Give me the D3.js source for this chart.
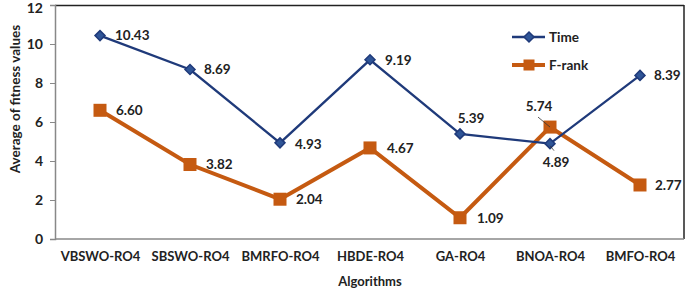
<!DOCTYPE html>
<html><head><meta charset="utf-8">
<script src="https://cdn.jsdelivr.net/npm/d3@7"></script>
<style>body{margin:0;background:#fff}svg{display:block}text{font-family:Lato,"Open Sans",sans-serif;font-weight:bold;fill:#222}</style>
</head><body><svg id="c" width="685" height="289"></svg>
<script>
const categories = ["VBSWO-RO4","SBSWO-RO4","BMRFO-RO4","HBDE-RO4","GA-RO4","BNOA-RO4","BMFO-RO4"];
const timeValues = [10.43, 8.69, 4.93, 9.19, 5.39, 4.89, 8.39];
const frankValues = [6.60, 3.82, 2.04, 4.67, 1.09, 5.74, 2.77];
const yTicks = [0,2,4,6,8,10,12];
const seriesNames = ["Time","F-rank"];

const svg = d3.select("#c");
const L=55, R=684, T=5, B=239;
const x = d3.scalePoint().domain(categories).range([L,685]).padding(0.5);
const y = d3.scaleLinear().domain([0,12]).range([B,T]);
const navy="#1F3A7A", orange="#C55A11";

svg.append("line").attr("x1",L).attr("x2",R).attr("y1",T+0.5).attr("y2",T+0.5).attr("stroke","#222").attr("stroke-width",1.5);
svg.append("line").attr("x1",R).attr("x2",R).attr("y1",T).attr("y2",B).attr("stroke","#222").attr("stroke-width",1.5);

const yAxis = svg.append("g").attr("transform",`translate(${L},0)`)
  .call(d3.axisLeft(y).tickValues(yTicks).tickFormat(d3.format("d")).tickSize(5).tickPadding(7));
yAxis.select(".domain").attr("stroke","#888").attr("stroke-width",1.5);
yAxis.selectAll(".tick line").attr("stroke","#888");
yAxis.selectAll("text").style("font-size","14px").attr("fill","#222");
yAxis.selectAll(".tick").filter(d=>d===12).select("text").attr("dy","0.5em");

const xAxis = svg.append("g").attr("transform",`translate(0,${B})`)
  .call(d3.axisBottom(x).tickSize(0).tickPadding(13));
xAxis.select(".domain").attr("stroke","#888").attr("stroke-width",1.5).attr("d",`M${L},0H${R}`);
xAxis.selectAll("text").style("font-size","13px").attr("fill","#222");

svg.append("text").attr("x",370).attr("y",286).attr("text-anchor","middle").style("font-size","13px").text("Algorithms");
svg.append("text").attr("transform","translate(15,99) rotate(-90)").attr("text-anchor","middle").attr("dy","0.35em").style("font-size","13.5px").text("Average of fitness values");

const line = d3.line().x((d,i)=>x(categories[i])).y(d=>y(d));
svg.append("path").datum(frankValues).attr("d",line).attr("fill","none").attr("stroke",orange).attr("stroke-width",4).attr("stroke-linejoin","miter");
svg.append("path").datum(timeValues).attr("d",line).attr("fill","none").attr("stroke",navy).attr("stroke-width",2.3);

const diamond = (cx,cy,s)=>`M${cx},${cy-s}L${cx+s},${cy}L${cx},${cy+s}L${cx-s},${cy}Z`;
svg.selectAll(".sq").data(frankValues).join("rect").attr("x",(d,i)=>x(categories[i])-6.5).attr("y",d=>y(d)-6.5).attr("width",13).attr("height",13).attr("fill",orange);
svg.selectAll(".dm").data(timeValues).join("path").attr("d",(d,i)=>diamond(x(categories[i]),y(d),5)).attr("fill","#2F5597").attr("stroke",navy).attr("stroke-width",1.5);

const timeOff = [[15,0,"start"],[14,0,"start"],[15,1,"start"],[15,0,"start"],[11,-16,"middle"],[6,19,"middle"],[14,0,"start"]];
const frankOff = [[16,0,"start"],[16,0,"start"],[16,0,"start"],[17,0,"start"],[17,1,"start"],[-11,-21,"middle"],[15,0,"start"]];
function labels(vals,offs){
  vals.forEach((v,i)=>{
    svg.append("text").attr("x",x(categories[i])+offs[i][0]).attr("y",y(v)+offs[i][1]).attr("dy","0.35em")
      .attr("text-anchor",offs[i][2]).style("font-size","13.5px").text(v.toFixed(2));
  });
}
labels(timeValues,timeOff); labels(frankValues,frankOff);
svg.append("line").attr("x1",x(categories[5])-12).attr("y1",y(frankValues[5])-10).attr("x2",x(categories[5])).attr("y2",y(frankValues[5])).attr("stroke","#333").attr("stroke-width",0.8);
svg.append("line").attr("x1",x(categories[5])+4).attr("y1",y(timeValues[5])+7).attr("x2",x(categories[5])).attr("y2",y(timeValues[5])+2).attr("stroke","#333").attr("stroke-width",0.8);

const lg = svg.append("g");
[[navy,2.3,seriesNames[0],37],[orange,4,seriesNames[1],65]].forEach(([c,w,t,ly],k)=>{
  lg.append("line").attr("x1",512).attr("x2",545).attr("y1",ly).attr("y2",ly).attr("stroke",c).attr("stroke-width",w);
  if(k===0) lg.append("path").attr("d",diamond(529,ly,5)).attr("fill","#2F5597").attr("stroke",navy).attr("stroke-width",1.5);
  else lg.append("rect").attr("x",523.5).attr("y",ly-5.5).attr("width",11).attr("height",11).attr("fill",orange);
  lg.append("text").attr("x",549).attr("y",ly).attr("dy","0.35em").style("font-size","13.5px").text(t);
});
</script></body></html>
